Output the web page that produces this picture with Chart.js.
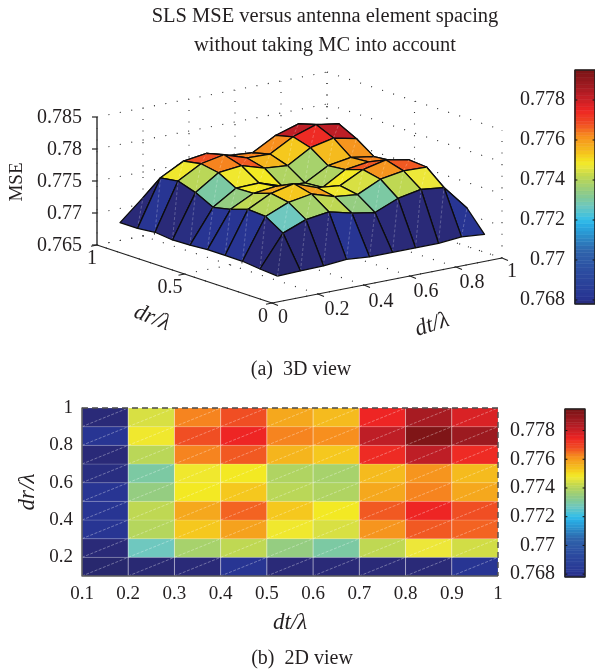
<!DOCTYPE html>
<html><head><meta charset="utf-8">
<script src="https://cdn.jsdelivr.net/npm/chart.js@4"></script>
<style>
html,body{margin:0;padding:0;background:#fff;overflow:hidden}
#wrap{position:relative;width:595px;height:672px;overflow:hidden}
canvas{position:absolute}
</style></head><body>
<div id="wrap">
<canvas id="c3d" width="595" height="390" style="left:0;top:0;width:595px;height:390px"></canvas>
<canvas id="cb1" width="95" height="260" style="left:500px;top:60px;width:95px;height:260px"></canvas>
<canvas id="c2d" width="595" height="282" style="left:0;top:390px;width:595px;height:282px"></canvas>
<canvas id="cb2" width="95" height="200" style="left:500px;top:395px;width:95px;height:200px"></canvas>
</div>
<script>
// ---------- data ----------
const dtValues = [0.1,0.2,0.3,0.4,0.5,0.6,0.7,0.8,0.9,1];
const drValues = [0.1,0.2,0.3,0.4,0.5,0.6,0.7,0.8,0.9,1];
const mseDr01 = [.7676,.7677,.7678,.7681,.7678,.7678,.7678,.7678,.7681,.7678];
const mseDr02 = [.7678,.7727,.7741,.7746,.7737,.7731,.7746,.7753,.7749,.7710];
const mseDr03 = [.7681,.7744,.7759,.7765,.7754,.7750,.7767,.7773,.7772,.7720];
const mseDr04 = [.7681,.7746,.7764,.7772,.7759,.7755,.7773,.7781,.7774,.7725];
const mseDr05 = [.7681,.7737,.7755,.7759,.7745,.7743,.7764,.7769,.7764,.7720];
const mseDr06 = [.7679,.7731,.7754,.7755,.7743,.7741,.7761,.7767,.7761,.7720];
const mseDr07 = [.7678,.7745,.7769,.7773,.7762,.7759,.7780,.7788,.7780,.7725];
const mseDr08 = [.7681,.7754,.7774,.7781,.7769,.7768,.7788,.7800,.7794,.7730];
const mseDr09 = [.7678,.7750,.7769,.7774,.7764,.7761,.7781,.7792,.7784,.7730];
const mseDr10 = [.7678,.7710,.7720,.7720,.7720,.7720,.7725,.7730,.7725,.7715];
const mseGrid = [mseDr01,mseDr02,mseDr03,mseDr04,mseDr05,mseDr06,mseDr07,mseDr08,mseDr09,mseDr10];

const zTicks3d = [0.765,0.77,0.775,0.78,0.785];
const zTickLabels3d = ['0.765','0.77','0.775','0.78','0.785'];
const dtTicks3d = [0,0.2,0.4,0.6,0.8,1];
const dtTickLabels3d = ['0','0.2','0.4','0.6','0.8','1'];
const drTicks3d = [0,0.5,1];
const drTickLabels3d = ['0','0.5','1'];
const xTicks2d = [0.1,0.2,0.3,0.4,0.5,0.6,0.7,0.8,0.9,1];
const xTickLabels2d = ['0.1','0.2','0.3','0.4','0.5','0.6','0.7','0.8','0.9','1'];
const yTicks2d = [0.2,0.4,0.6,0.8,1];
const yTickLabels2d = ['0.2','0.4','0.6','0.8','1'];
const barTicks = [0.768,0.77,0.772,0.774,0.776,0.778];
const barTickLabels = ['0.768','0.77','0.772','0.774','0.776','0.778'];
const climLow = 0.7678, climHigh = 0.7795;

// colour map
const cmapValues = [.7676,.7678,.7681,.7695,.7705,.7712,.7717,.7720,.7724,.7727,.7731,.7735,.7739,.7743,.7747,.7749,.7753,.7758,.7762,.7765,.7768,.7775,.7782,.7788,.7795];
const cmapColors = ['#28286e','#2a2a78','#283593','#2d4ea1','#2f66ad','#2b8fcb','#29aae2','#33bdea','#55c4cf','#6fc8bf','#80c99b','#97cd7f','#aed464','#c8da4a','#ede739','#f3e923','#f5c81e','#f5a81d','#f78f1e','#f46e21','#f04e23','#ee2524','#be1e26','#9c1a20','#7a1416'];

function hexRgb(h){return [1,3,5].map(i=>parseInt(h.substr(i,2),16));}
function colorOf(v){
  if(v<=cmapValues[0]) return cmapColors[0];
  for(let i=1;i<cmapValues.length;i++){
    if(v<=cmapValues[i]){
      const t=(v-cmapValues[i-1])/(cmapValues[i]-cmapValues[i-1]);
      const a=hexRgb(cmapColors[i-1]),b=hexRgb(cmapColors[i]);
      return 'rgb('+a.map((c,k)=>Math.round(c+(b[k]-c)*t)).join(',')+')';
    }
  }
  return cmapColors[cmapColors.length-1];
}
// the printed colours sit slightly below the heights
function cellColor(v){
  if(v<=.7727) return colorOf(v);
  if(v<=.7753) return colorOf(.7727+(v-.7727)/1.3);
  return colorOf(v-.0006);
}

Chart.defaults.font.family = '"Liberation Serif", serif';
Chart.defaults.color = '#231f20';
Chart.defaults.animation = false;
Chart.defaults.responsive = false;
Chart.defaults.plugins.legend.display = false;
Chart.defaults.plugins.tooltip.enabled = false;
Chart.defaults.elements.point.radius = 0;

function poly(points, fillColor, stroke, width, dash){
  return {type:'scatter', showLine:true, data:points, clip:false,
    fill: fillColor ? 'shape' : false, backgroundColor: fillColor || 'transparent',
    borderColor: stroke || 'transparent', borderWidth: width===undefined?0:width,
    borderDash: dash||[], borderJoinStyle:'round', borderCapStyle:'butt', tension:0, pointRadius:0};
}
function noAxisPad(s){s.paddingTop=0;s.paddingBottom=0;s.paddingLeft=0;s.paddingRight=0;}

// ---------- 3D view: orthographic projection of (dt, dr, mse) ----------
const ORIGIN = {x:272,y:303};
const DT_VEC = {x:230,y:-45};
const DR_VEC = {x:-175,y:-58};
const Z_BASE = 0.765, Z_PX_PER_UNIT = 6400;
function project(dt,dr,z){
  return {x:ORIGIN.x+DT_VEC.x*dt+DR_VEC.x*dr,
          y:ORIGIN.y+DT_VEC.y*dt+DR_VEC.y*dr-(z-Z_BASE)*Z_PX_PER_UNIT};
}
const back = [];
const DOT = [1.1,10.5];
const zTop = zTicks3d[zTicks3d.length-1], zBot = zTicks3d[0];
function dotted(a,b){back.push(poly([a,b],null,'#333',1.1,DOT));}
zTicks3d.forEach(z=>{
  dotted(project(0,1,z),project(1,1,z));
  dotted(project(1,1,z),project(1,0,z));
});
dtTicks3d.forEach(t=>{
  dotted(project(t,1,zBot),project(t,1,zTop));
  dotted(project(t,0,zBot),project(t,1,zBot));
});
drTicks3d.forEach(r=>{
  dotted(project(1,r,zBot),project(1,r,zTop));
  dotted(project(0,r,zBot),project(1,r,zBot));
});
// axes
back.push(poly([project(0,1,zBot),project(0,1,zTop)],null,'#444',1.6));
back.push(poly([project(0,1,zBot),project(0,0,zBot),project(1,0,zBot)],null,'#222',1.2));
zTicks3d.forEach(z=>{const p=project(0,1,z);back.push(poly([p,{x:p.x-5,y:p.y}],null,'#222',1.2));});
dtTicks3d.forEach(t=>{const p=project(t,0,zBot);back.push(poly([p,{x:p.x+6,y:p.y+2.4}],null,'#222',1.1));});
drTicks3d.forEach(r=>{const p=project(0,r,zBot);back.push(poly([p,{x:p.x-6,y:p.y+1.2}],null,'#222',1.1));});

// surface facets, painted from far to near
const facets = [];
for(let i=dtValues.length-2;i>=0;i--){
  for(let j=drValues.length-2;j>=0;j--){
    const a=project(dtValues[i],drValues[j],mseGrid[j][i]);
    const b=project(dtValues[i+1],drValues[j],mseGrid[j][i+1]);
    const c=project(dtValues[i+1],drValues[j+1],mseGrid[j+1][i+1]);
    const d=project(dtValues[i],drValues[j+1],mseGrid[j+1][i]);
    facets.push(poly([a,b,c,d,a],cellColor(mseGrid[j][i]),'#0c0c0c',1.3));
    facets.push(poly([a,c],null,'rgba(255,255,255,0.3)',0.8,[3,2]));
  }
}
const CAPTION_FONT='20px "Liberation Serif"';
const labels3d = {
  id:'labels3d',
  afterDraw(chart){
    const ctx=chart.ctx;
    const sx=chart.scales.x, sy=chart.scales.y;
    ctx.save();
    ctx.fillStyle='#231f20';
    ctx.textBaseline='middle';
    ctx.font='20px "Liberation Serif"';
    ctx.textAlign='right';
    zTicks3d.forEach((z,i)=>{const p=project(0,1,z);ctx.fillText(zTickLabels3d[i],sx.getPixelForValue(p.x-15),sy.getPixelForValue(p.y+1));});
    ctx.textAlign='center';
    const drOff=[[-9,14],[-14.5,14],[-5,14]];
    drTicks3d.forEach((r,i)=>{const p=project(0,r,zBot);ctx.fillText(drTickLabels3d[i],sx.getPixelForValue(p.x+drOff[i][0]),sy.getPixelForValue(p.y+drOff[i][1]));});
    const dtOff=[[11,15],[19,16],[17,17],[16,16],[16,16],[10,14]];
    dtTicks3d.forEach((t,i)=>{const p=project(t,0,zBot);ctx.fillText(dtTickLabels3d[i],sx.getPixelForValue(p.x+dtOff[i][0]),sy.getPixelForValue(p.y+dtOff[i][1]));});
    const rotated=(txt,x,y,ang,font)=>{ctx.save();ctx.translate(sx.getPixelForValue(x),sy.getPixelForValue(y));ctx.rotate(ang);ctx.font=font;ctx.fillText(txt,0,0);ctx.restore();};
    rotated('MSE',17,182,-Math.PI/2,'19px "Liberation Serif"');
    rotated('dr/λ',152,318,22*Math.PI/180,'italic 23px "Liberation Serif"');
    rotated('dt/λ',432,325,-18*Math.PI/180,'italic 23px "Liberation Serif"');
    ctx.font=CAPTION_FONT;
    ctx.fillText('(a)  3D view',301,370);
    ctx.restore();
  }
};
new Chart(document.getElementById('c3d'),{
  type:'scatter',
  data:{datasets:back.concat(facets).reverse()},
  options:{
    layout:{padding:{left:55,right:0,top:0,bottom:30}},
    plugins:{
      title:{display:true,text:['SLS MSE versus antenna element spacing','without taking MC into account'],
        font:{size:20.5,weight:'normal',lineHeight:1.4},padding:{top:2.6,bottom:0},color:'#231f20'}
    },
    scales:{
      x:{type:'linear',display:false,min:55,max:595},
      y:{type:'linear',display:false,reverse:true,min:60,max:360}
    }
  },
  plugins:[labels3d]
});

// ---------- 2D view ----------
const cells=[];
for(let j=0;j<drValues.length-1;j++){
  for(let i=0;i<dtValues.length-1;i++){
    const x0=dtValues[i],x1=dtValues[i+1],y0=drValues[j],y1=drValues[j+1];
    cells.push(poly([{x:x0,y:y0},{x:x1,y:y0},{x:x1,y:y1},{x:x0,y:y1},{x:x0,y:y0}],cellColor(mseGrid[j][i]),'rgba(255,255,255,0.2)',0.8));
    cells.push(poly([{x:x0,y:y0},{x:x1,y:y1}],null,'rgba(255,255,255,0.42)',0.8,[3,1.5]));
  }
}
const box=[
  poly([{x:.1,y:1},{x:.1,y:.1},{x:1,y:.1}],null,'#5a5a5a',1.5),
  poly([{x:.1,y:1},{x:1,y:1},{x:1,y:.1}],null,'#4a4a4a',1.4,[6,4])
];
const caption2d={id:'caption2d',afterDraw(chart){
  const ctx=chart.ctx;ctx.save();ctx.fillStyle='#231f20';ctx.textAlign='center';ctx.textBaseline='middle';
  ctx.font=CAPTION_FONT;ctx.fillText('(b)  2D view',302,269);ctx.restore();
}};
new Chart(document.getElementById('c2d'),{
  type:'scatter',
  data:{datasets:cells.concat(box).reverse()},
  options:{
    layout:{padding:{left:0,right:97,top:18,bottom:0}},
    scales:{
      x:{type:'linear',min:.1,max:1,grid:{display:false,drawTicks:false},border:{display:false},
        afterBuildTicks(s){s.ticks=xTicks2d.map(v=>({value:v}));},
        afterFit(s){s.height=96;noAxisPad(s);},
        ticks:{autoSkip:false,maxRotation:0,padding:7,font:{size:19},callback(v){return xTickLabels2d[xTicks2d.indexOf(v)];}},
        title:{display:true,text:'dt/λ',font:{size:23,style:'italic'},padding:{top:0,bottom:35}}},
      y:{type:'linear',min:.1,max:1,grid:{display:false,drawTicks:false},border:{display:false},
        afterBuildTicks(s){s.ticks=yTicks2d.map(v=>({value:v}));},
        afterFit(s){s.width=82;noAxisPad(s);},
        ticks:{autoSkip:false,padding:9,font:{size:19},callback(v){return yTickLabels2d[yTicks2d.indexOf(v)];}},
        title:{display:true,text:'dr/λ',font:{size:23,style:'italic'},padding:{top:14,bottom:0}}}
    }
  },
  plugins:[caption2d]
});

// ---------- colour bars ----------
function colorBar(id,padTop,padBottom,padRight,axisWidth){
  const n=64, ds=[];
  for(let k=0;k<n;k++){
    const lo=climLow+(climHigh-climLow)*k/n, hi=climLow+(climHigh-climLow)*(k+1)/n;
    const col=colorOf((lo+hi)/2);
    ds.push(poly([{x:0,y:lo},{x:1,y:lo},{x:1,y:hi},{x:0,y:hi},{x:0,y:lo}],col,col,0.6));
  }
  barTicks.forEach(v=>{
    ds.push(poly([{x:0,y:v},{x:.12,y:v}],null,'#111',1));
    ds.push(poly([{x:.88,y:v},{x:1,y:v}],null,'#111',1));
  });
  ds.push(poly([{x:0,y:climLow},{x:1,y:climLow},{x:1,y:climHigh},{x:0,y:climHigh},{x:0,y:climLow}],null,'#222',1.5));
  new Chart(document.getElementById(id),{
    type:'scatter',
    data:{datasets:ds.reverse()},
    options:{
      layout:{padding:{left:0,right:padRight,top:padTop,bottom:padBottom}},
      scales:{
        x:{type:'linear',display:false,min:0,max:1},
        y:{type:'linear',min:climLow,max:climHigh,grid:{display:false,drawTicks:false},border:{display:false},
          afterBuildTicks(s){s.ticks=barTicks.map(v=>({value:v}));},
          afterFit(s){s.width=axisWidth;noAxisPad(s);},
          ticks:{autoSkip:false,padding:10,font:{size:20},callback(v){return barTickLabels[barTicks.indexOf(v)];}}}
      }
    }
  });
}
colorBar('cb1',10,16,0,75);
colorBar('cb2',14,18,10,65);
</script>
</body></html>
